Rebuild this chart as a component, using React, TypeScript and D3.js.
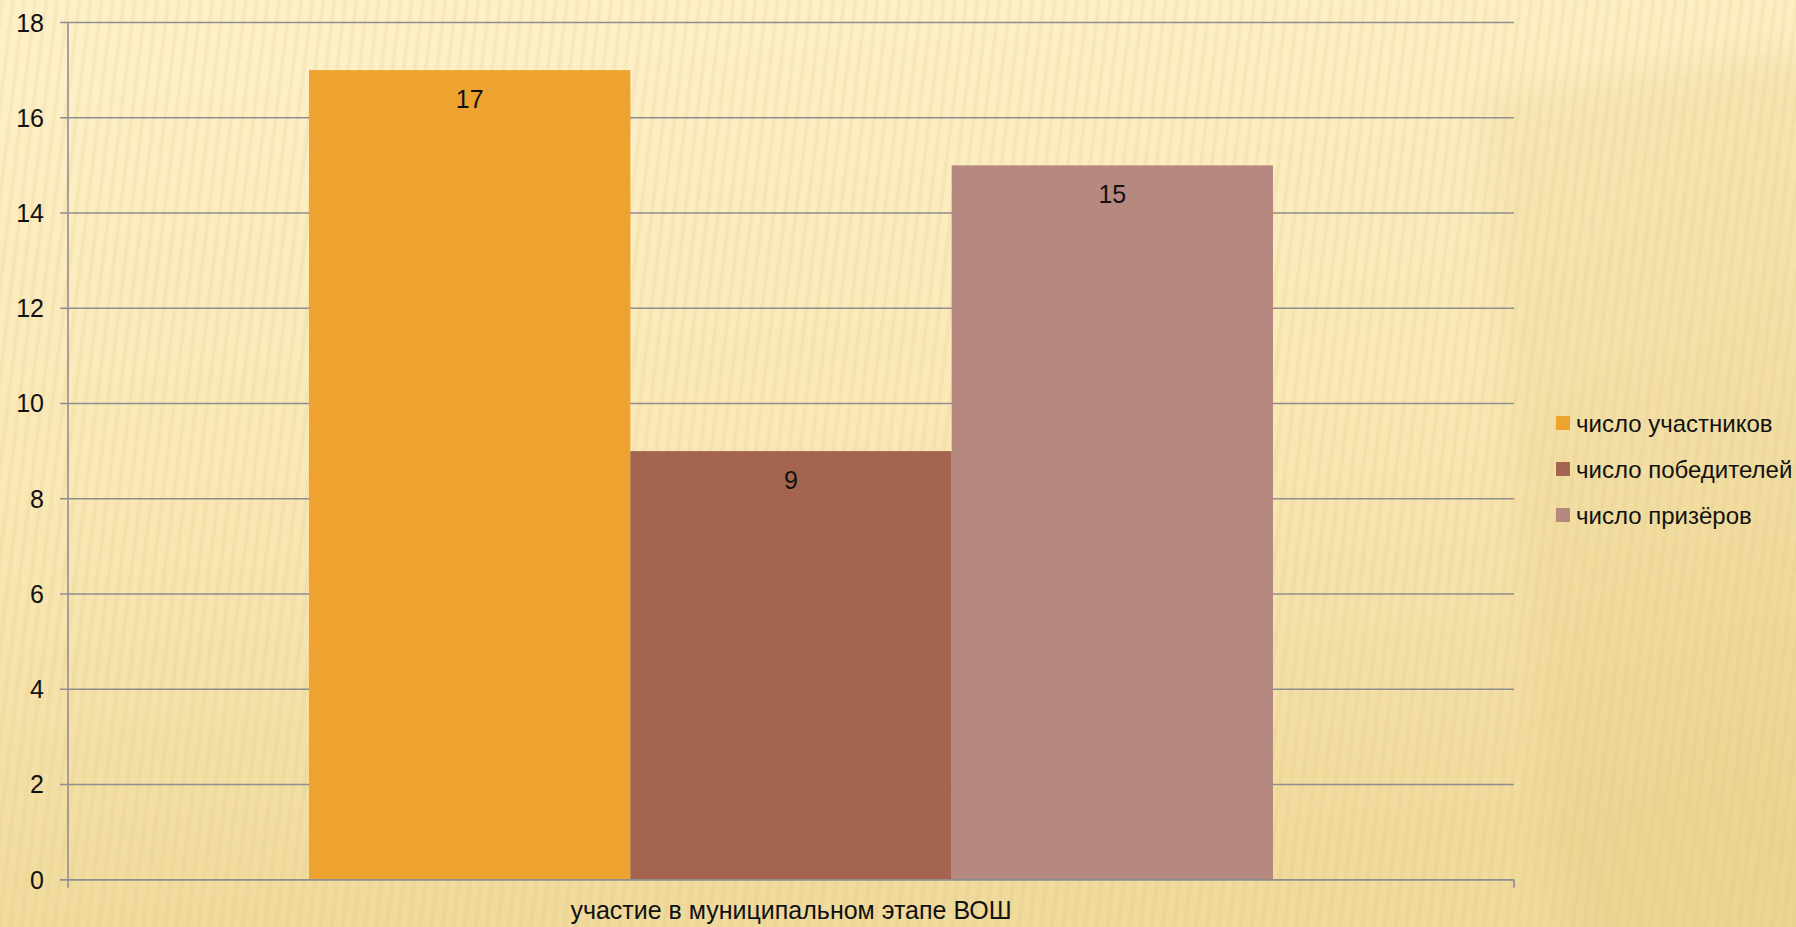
import React from "react";
import * as d3 from "d3";

const categories = ["участие в муниципальном этапе ВОШ"];
const seriesNames = ["число участников", "число победителей", "число призёров"];
const seriesValues = [17, 9, 15];
const seriesColors = ["#EEA230", "#A46450", "#B5897F"];
const yTicks = [0, 2, 4, 6, 8, 10, 12, 14, 16, 18];

const W = 1796;
const H = 927;
const FONT = "'Liberation Sans', Arial, sans-serif";

export default function App() {
  const left = 68;
  const right = 1514;
  const top = 22.5;
  const bottom = 879.7;

  const y = d3.scaleLinear().domain([0, 18]).range([bottom, top]);
  const x0 = d3.scaleBand().domain(categories).range([left, right]).paddingInner(0).paddingOuter(0.25);
  const x1 = d3.scaleBand().domain(seriesNames).range([0, x0.bandwidth()]).padding(0);

  return (
    <div style={{ position: "absolute", left: 0, top: 0, width: W, height: H, overflow: "hidden" }}>
      <svg width={W} height={H} style={{ display: "block" }}>
        <defs>
          <linearGradient id="bg" x1="0" y1="0" x2="0.15" y2="1">
            <stop offset="0" stopColor="#FEF1CA" />
            <stop offset="0.5" stopColor="#FAE8B6" />
            <stop offset="1" stopColor="#F0DA9C" />
          </linearGradient>
          <linearGradient id="corner" x1="0" y1="0" x2="1" y2="1">
            <stop offset="0" stopColor="#E6CC84" stopOpacity="0.2" />
            <stop offset="1" stopColor="#E2C77C" stopOpacity="0.35" />
          </linearGradient>
          <filter id="blur" x="-20%" y="-20%" width="140%" height="140%">
            <feGaussianBlur stdDeviation="18" />
          </filter>
          <pattern id="str" width="11" height="40" patternUnits="userSpaceOnUse" patternTransform="rotate(7)">
            <rect x="0" y="0" width="4" height="40" fill="#D9BF7A" opacity="0.16" />
          </pattern>
        </defs>
        <rect x={0} y={0} width={W} height={H} fill="url(#bg)" />
        <polygon points={`1480,95 1820,50 1820,960 1560,960`} fill="url(#corner)" filter="url(#blur)" />
        <rect x={0} y={0} width={W} height={H} fill="url(#str)" />

        {/* gridlines */}
        {yTicks.map((t) => (
          <line key={"g" + t} x1={left - 8} x2={right} y1={y(t)} y2={y(t)} stroke="#8E8E8E" strokeWidth={1.6} />
        ))}
        {/* y tick labels */}
        {yTicks.map((t) => (
          <text key={"t" + t} x={44} y={y(t) + 9} textAnchor="end" fontFamily={FONT} fontSize={25} fill="#111">
            {t}
          </text>
        ))}

        {/* bars */}
        {categories.map((c) => (
          <g key={c} transform={`translate(${x0(c)},0)`}>
            {seriesNames.map((s, i) => (
              <g key={s}>
                <rect x={x1(s)} y={y(seriesValues[i])} width={x1.bandwidth()} height={bottom - y(seriesValues[i])} fill={seriesColors[i]} />
                <text
                  x={(x1(s) as number) + x1.bandwidth() / 2}
                  y={y(seriesValues[i]) + 37.5}
                  textAnchor="middle"
                  fontFamily={FONT}
                  fontSize={25}
                  fill="#111"
                >
                  {seriesValues[i]}
                </text>
              </g>
            ))}
          </g>
        ))}

        {/* axes */}
        <line x1={left} x2={left} y1={top} y2={bottom + 8} stroke="#8E8E8E" strokeWidth={1.6} />
        <line x1={left - 8} x2={right} y1={bottom} y2={bottom} stroke="#8E8E8E" strokeWidth={1.6} />
        <line x1={right} x2={right} y1={bottom} y2={bottom + 8} stroke="#8E8E8E" strokeWidth={1.6} />

        {/* category label */}
        {categories.map((c) => (
          <text key={"c" + c} x={(x0(c) as number) + x0.bandwidth() / 2} y={919} textAnchor="middle" fontFamily={FONT} fontSize={25} fill="#111">
            {c}
          </text>
        ))}

        {/* legend */}
        {seriesNames.map((s, i) => (
          <g key={"l" + s} transform={`translate(1556,${423 + i * 46})`}>
            <rect x={0} y={-7} width={14} height={14} fill={seriesColors[i]} />
            <text x={20} y={8.5} fontFamily={FONT} fontSize={24} fill="#111">
              {s}
            </text>
          </g>
        ))}
      </svg>
    </div>
  );
}
